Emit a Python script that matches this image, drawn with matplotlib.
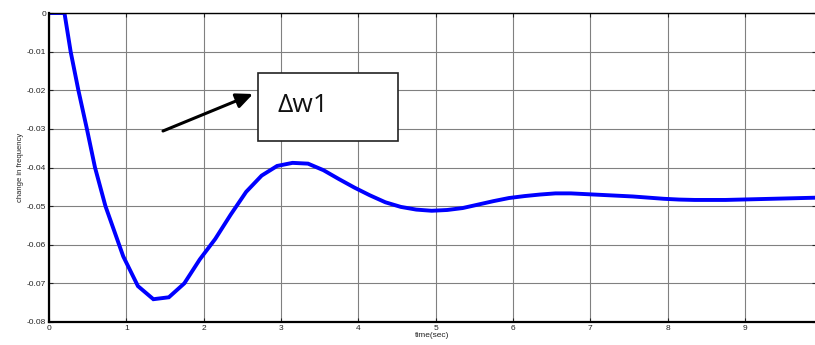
import matplotlib.pyplot as plt
from matplotlib.patches import FancyArrowPatch

# values
time_sec = [0, 0.2, 0.28, 0.38, 0.49, 0.595, 0.73, 0.96, 1.15, 1.35, 1.55, 1.75,
            1.95, 2.15, 2.35, 2.55, 2.75, 2.95, 3.15, 3.35, 3.55, 3.75, 3.95,
            4.15, 4.35, 4.55, 4.75, 4.95, 5.15, 5.35, 5.55, 5.75, 5.95, 6.15,
            6.35, 6.55, 6.75, 6.95, 7.15, 7.35, 7.55, 7.75, 7.95, 8.15, 8.35,
            8.55, 8.75, 8.95, 9.15, 9.35, 9.55, 9.75, 9.95]
freq_change = [0, 0, -0.010, -0.020, -0.030, -0.040, -0.050, -0.063, -0.0707,
               -0.0741, -0.0736, -0.0700, -0.0638, -0.0585, -0.0522, -0.0463,
               -0.0421, -0.0396, -0.0388, -0.0390, -0.0407, -0.0430, -0.0452,
               -0.0472, -0.0490, -0.0502, -0.0509, -0.0512, -0.0510, -0.0505,
               -0.0496, -0.0487, -0.0479, -0.0474, -0.0470, -0.0467, -0.0467,
               -0.0469, -0.0471, -0.0473, -0.0475, -0.0478, -0.0481, -0.0483,
               -0.0484, -0.0484, -0.0484, -0.0483, -0.0482, -0.0481, -0.0480,
               -0.0479, -0.0478]
x_ticks = [0, 1, 2, 3, 4, 5, 6, 7, 8, 9]
y_ticks = [0, -0.01, -0.02, -0.03, -0.04, -0.05, -0.06, -0.07, -0.08]
y_tick_labels = ["0", "-0.01", "-0.02", "-0.03", "-0.04", "-0.05", "-0.06", "-0.07", "-0.08"]

plt.rcParams['font.family'] = ['Liberation Sans', 'DejaVu Sans']

fig = plt.figure(figsize=(8.15, 3.45), dpi=100)
ax = fig.add_axes([49 / 815, 23 / 345, 767 / 815, 309 / 345])

ax.plot(time_sec, freq_change, color='#0000ff', linewidth=2.8, solid_joinstyle='miter')

ax.set_xlim(0, 9.92)
ax.set_ylim(-0.08, 0)
ax.set_xticks(x_ticks)
ax.set_yticks(y_ticks)
ax.set_yticklabels(y_tick_labels)
ax.tick_params(direction='in', length=3, width=0.8, labelsize=6, colors='#222222',
               top=True, right=True, pad=2)
ax.grid(True, color='#808080', linewidth=0.8)
ax.set_axisbelow(True)
for side in ['left', 'bottom']:
    ax.spines[side].set_linewidth(1.6)
ax.spines['top'].set_linewidth(1.0)
ax.spines['right'].set_visible(False)

ax.set_xlabel("time(sec)", fontsize=6, labelpad=0, color='#222222')
ax.set_ylabel("change in frequency", fontsize=5.5, labelpad=2, color='#222222')

# annotation box, label and arrow
fig.patches.append(plt.Rectangle((258 / 815, 1 - 141 / 345), 140 / 815, 68 / 345,
                                 transform=fig.transFigure, facecolor='white',
                                 edgecolor='#222222', linewidth=1.2, zorder=5))
fig.text(278 / 815, 1 - 112 / 345, "\u0394w1", fontsize=19, family=['Open Sans', 'DejaVu Sans'],
         color='#111111', zorder=6)
arrow = FancyArrowPatch((163 / 815, 1 - 131 / 345), (253 / 815, 1 - 94 / 345),
                        transform=fig.transFigure, arrowstyle='-|>,head_length=10,head_width=4.5',
                        color='black', linewidth=2.2, shrinkA=0, shrinkB=0, zorder=6)
fig.patches.append(arrow)

fig.savefig("out.png", dpi=100)
